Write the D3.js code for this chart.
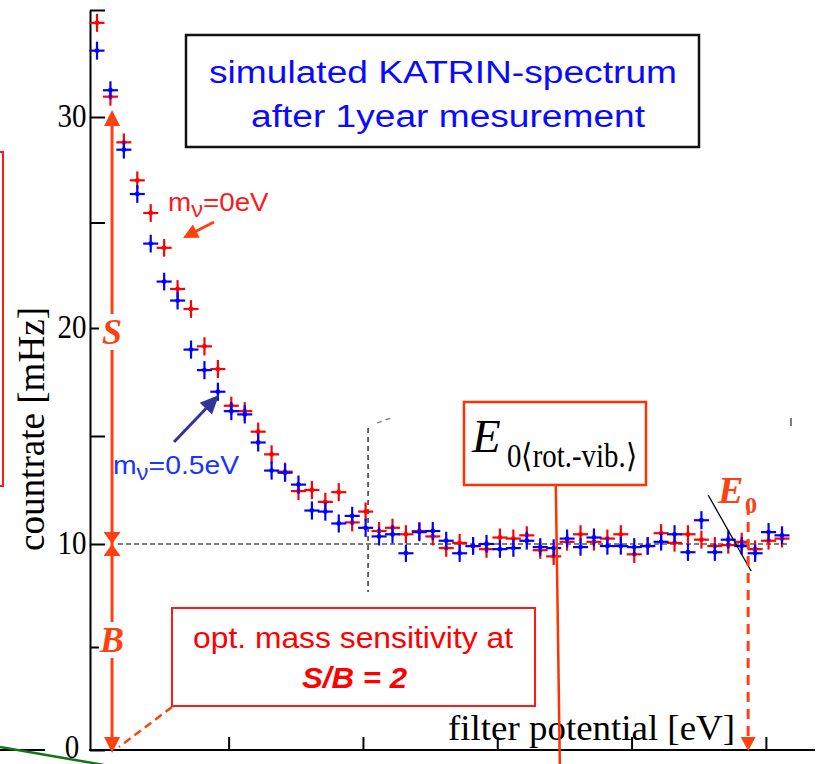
<!DOCTYPE html>
<html>
<head>
<meta charset="utf-8">
<script src="https://cdn.jsdelivr.net/npm/d3@7"></script>
<style>
  html, body { margin: 0; padding: 0; background: #fff; }
  svg { display: block; }
</style>
</head>
<body>
<svg id="chart" width="827" height="764"></svg>
<script>
// Retarding (filter) potential relative to the endpoint region, eV
const filterPotential = [
  -24.9, -24.4, -23.9, -23.4, -22.9, -22.4, -21.9, -21.4, -20.9, -20.4,
  -19.9, -19.4, -18.9, -18.4, -17.9, -17.4, -16.9, -16.4, -15.9, -15.4,
  -14.9, -14.4, -13.9, -13.4, -12.9, -12.4, -11.9, -11.4, -10.9, -10.4,
  -9.9, -9.4, -8.9, -8.4, -7.9, -7.4, -6.9, -6.4, -5.9, -5.4,
  -4.9, -4.4, -3.9, -3.4, -2.9, -2.4, -1.9, -1.4, -0.9, -0.4,
  0.1, 0.6
];

// Count rate for m_nu = 0 eV, mHz
const rateMassless = [
  34.4, 30.95, 28.8, 27.0, 25.45, 23.8, 21.85, 20.9, 19.15, 18.1,
  16.4, 16.15, 15.2, 14.15, 13.35, 12.45, 12.5, 11.95, 12.4, 11.0,
  11.5, 10.6, 10.75, 10.45, 10.6, 10.35, 9.8, 10.05, 9.9, 9.75,
  10.3, 10.25, 10.4, 9.7, 9.4, 10.1, 10.45, 10.1, 10.25, 10.45,
  9.5, 9.9, 10.5, 10.05, 10.45, 10.2, 9.9, 9.95, 10.1, 9.75,
  10.15, 10.25
];

// Count rate for m_nu = 0.5 eV, mHz
const rateMassive = [
  33.1, 31.25, 28.45, 26.35, 24.0, 22.2, 21.3, 19.0, 18.05, 17.05,
  16.15, 16.0, 14.7, 13.4, 13.3, 12.75, 11.55, 11.5, 10.95, 11.3,
  10.75, 10.35, 10.45, 9.55, 10.55, 10.6, 10.15, 9.55, 9.9, 10.0,
  9.75, 9.8, 10.15, 9.85, 9.8, 10.25, 9.85, 10.3, 9.9, 9.9,
  9.85, 9.9, 10.1, 10.45, 9.6, 11.1, 9.6, 10.2, 9.9, 9.55,
  10.55, 10.4
];

const yTickValues = [0, 5, 10, 15, 20, 25, 30, 35];
const yTickLabels = ["0", "10", "20", "30"];
const xTickValues = [-20, -15, -10, -5, 0];

const background = 10;        // B level, mHz
const signalTop = 30;         // top of the S arrow, mHz
const endpoint = -0.66;       // E0
const rotVibTop = -7.82;      // E0<rot.-vib.> pointer, top end
const rotVibBottom = -7.67;   // E0<rot.-vib.> pointer, bottom end
const sbArrowX = -24.34;      // position of the S/B arrow
const xErr = 0.28;            // half bin width, eV
const yErr = 0.42;            // statistical error, mHz

const svg = d3.select("#chart");
const W = 827, H = 764;

const x = d3.scaleLinear().domain([-24.9, 0.6]).range([97, 782]);
const y = d3.scaleLinear().domain([0, 10, 20, 30, 35]).range([750, 544, 328, 117, 10]);

const serif = "'Liberation Serif','Times New Roman',Times,serif";
const sans = "'Liberation Sans',Arial,Helvetica,sans-serif";
const orange = "#ff4010";

svg.append("rect").attr("width", W).attr("height", H).attr("fill", "#fff");

// stray pieces at the far left edge
svg.append("rect").attr("x", -6).attr("y", 152).attr("width", 9).attr("height", 334)
  .attr("fill", "none").attr("stroke", "#ff1a1a").attr("stroke-width", 2);
svg.append("line").attr("x1", 0).attr("y1", 750).attr("x2", 45).attr("y2", 750)
  .attr("stroke", "#000").attr("stroke-width", 2);
svg.append("line").attr("x1", 0).attr("y1", 747).attr("x2", 104).attr("y2", 765)
  .attr("stroke", "#117711").attr("stroke-width", 2.5);

// y axis
const yAxis = d3.axisRight(y).tickValues(yTickValues).tickSize(15).tickSizeOuter(0).tickFormat("");
const gy = svg.append("g").attr("transform", "translate(90,0)").call(yAxis);
gy.selectAll("path,line").attr("stroke", "#000").attr("stroke-width", 2);

svg.append("g").selectAll("text").data(yTickLabels).join("text")
  .attr("x", 72).attr("y", d => Math.min(y(+d) + 10, 758))
  .attr("text-anchor", "middle")
  .attr("font-family", serif).attr("font-size", 34)
  .attr("textLength", d => d.length * 14.5).attr("lengthAdjust", "spacingAndGlyphs")
  .text(d => d);

// x axis
svg.append("line").attr("x1", 89).attr("x2", 815).attr("y1", y(0)).attr("y2", y(0))
  .attr("stroke", "#000").attr("stroke-width", 2);
const xAxis = d3.axisTop(x).tickValues(xTickValues).tickSize(13).tickSizeOuter(0).tickFormat("");
const gx = svg.append("g").attr("transform", `translate(0,${y(0)})`).call(xAxis);
gx.select(".domain").remove();
gx.selectAll("line").attr("stroke", "#000").attr("stroke-width", 2);

svg.append("text")
  .attr("transform", "translate(44,429) rotate(-90)")
  .attr("text-anchor", "middle")
  .attr("font-family", serif).attr("font-size", 37)
  .attr("textLength", 244).attr("lengthAdjust", "spacingAndGlyphs")
  .text("countrate [mHz]");

svg.append("text")
  .attr("x", 448).attr("y", 740)
  .attr("font-family", serif).attr("font-size", 36)
  .attr("textLength", 287).attr("lengthAdjust", "spacingAndGlyphs")
  .text("filter potential [eV]");

// background level and cut markers
svg.append("line").attr("x1", 118).attr("x2", 790).attr("y1", y(background)).attr("y2", y(background))
  .attr("stroke", "#000").attr("stroke-width", 1.2).attr("stroke-dasharray", "5,3");
svg.append("line").attr("x1", x(-14.81)).attr("x2", x(-14.81)).attr("y1", y(15.37)).attr("y2", y(7.67))
  .attr("stroke", "#000").attr("stroke-width", 1.2).attr("stroke-dasharray", "5,4");
svg.append("line").attr("x1", 377).attr("y1", 423).attr("x2", 391).attr("y2", 418)
  .attr("stroke", "#777").attr("stroke-width", 1.3).attr("stroke-dasharray", "5,4");
svg.append("line").attr("x1", 791).attr("y1", 418).attr("x2", 791).attr("y2", 426)
  .attr("stroke", "#555").attr("stroke-width", 1.5);

// data points with error crosses
function drawSeries(values, color) {
  const g = svg.append("g").attr("stroke", color).attr("fill", color).attr("stroke-width", 2.2);
  const pts = filterPotential.map((xv, i) => ({ xv, v: values[i] }));
  g.selectAll("line.h").data(pts).join("line").attr("class", "h")
    .attr("x1", d => x(d.xv - xErr)).attr("x2", d => x(d.xv + xErr))
    .attr("y1", d => y(d.v)).attr("y2", d => y(d.v));
  g.selectAll("line.v").data(pts).join("line").attr("class", "v")
    .attr("x1", d => x(d.xv)).attr("x2", d => x(d.xv))
    .attr("y1", d => y(d.v - yErr)).attr("y2", d => y(d.v + yErr));
  g.selectAll("circle").data(pts).join("circle")
    .attr("cx", d => x(d.xv)).attr("cy", d => y(d.v)).attr("r", 2.4).attr("stroke", "none");
}
drawSeries(rateMassless, "#ff0000");
drawSeries(rateMassive, "#0000ff");

// helper: filled arrowhead pointing from (x0,y0) to tip (x1,y1)
function arrowHead(x0, y0, x1, y1, len, wid, color) {
  const a = Math.atan2(y1 - y0, x1 - x0);
  const bx = x1 - len * Math.cos(a), by = y1 - len * Math.sin(a);
  const px = Math.sin(a) * wid / 2, py = -Math.cos(a) * wid / 2;
  svg.append("polygon")
    .attr("points", `${x1},${y1} ${bx + px},${by + py} ${bx - px},${by - py}`)
    .attr("fill", color);
}
function arrow(x0, y0, x1, y1, len, wid, color, sw) {
  const a = Math.atan2(y1 - y0, x1 - x0);
  svg.append("line").attr("x1", x0).attr("y1", y0)
    .attr("x2", x1 - (len - 2) * Math.cos(a)).attr("y2", y1 - (len - 2) * Math.sin(a))
    .attr("stroke", color).attr("stroke-width", sw);
  arrowHead(x0, y0, x1, y1, len, wid, color);
}

// S / B arrow
const ax = x(sbArrowX);
svg.append("line").attr("x1", ax).attr("x2", ax).attr("y1", y(signalTop)).attr("y2", y(0) - 8)
  .attr("stroke", orange).attr("stroke-width", 3);
arrowHead(ax, y(signalTop) + 20, ax, y(signalTop) - 7, 16, 16, orange);
arrowHead(ax, y(background) - 20, ax, y(background), 12, 17, orange);
arrowHead(ax, y(background) + 20, ax, y(background), 12, 17, orange);
arrowHead(ax, y(0) - 20, ax, y(0) + 3, 16, 16, orange);

function sbLabel(txt, cy) {
  svg.append("rect").attr("x", ax - 13).attr("y", cy - 18).attr("width", 27).attr("height", 36).attr("fill", "#fff");
  svg.append("text").attr("x", ax).attr("y", cy + 12).attr("text-anchor", "middle")
    .attr("font-family", serif).attr("font-size", 36).attr("font-weight", "bold").attr("font-style", "italic")
    .attr("fill", orange).text(txt);
}
sbLabel("S", 332);
sbLabel("B", 640);

// neutrino mass labels: m with subscript nu, stretched slightly in x
function massLabel(x0, baseline, value, color, sx) {
  const t = svg.append("text")
    .attr("transform", `translate(${x0},${baseline}) scale(${sx},1)`)
    .attr("font-family", sans).attr("font-size", 26).attr("fill", color);
  t.append("tspan").text("m");
  t.append("tspan").attr("font-size", 22).attr("dy", 6).text("ν");
  t.append("tspan").attr("dy", -6).text("=" + value);
}
massLabel(168, 211, "0eV", "#ff1a1a", 1.07);
arrow(214, 222, 183, 238, 15, 15, orange, 3);
massLabel(113, 474, "0.5eV", "#1a33ff", 1.09);
arrow(174, 442, 219, 395, 19, 17, "#333399", 3);

// title box
svg.append("rect").attr("x", 186).attr("y", 35).attr("width", 513).attr("height", 112)
  .attr("fill", "#fff").attr("stroke", "#111").attr("stroke-width", 2.5);
svg.append("text").attr("x", 209).attr("y", 83).attr("font-family", sans).attr("font-size", 31)
  .attr("fill", "#0a0aff").attr("textLength", 468).attr("lengthAdjust", "spacingAndGlyphs")
  .text("simulated KATRIN-spectrum");
svg.append("text").attr("x", 251).attr("y", 127).attr("font-family", sans).attr("font-size", 31)
  .attr("fill", "#0a0aff").attr("textLength", 394).attr("lengthAdjust", "spacingAndGlyphs")
  .text("after 1year mesurement");

// sensitivity box
svg.append("line").attr("x1", 172).attr("y1", 707).attr("x2", 119).attr("y2", 747)
  .attr("stroke", orange).attr("stroke-width", 2.5).attr("stroke-dasharray", "8,5");
svg.append("rect").attr("x", 172).attr("y", 608).attr("width", 363).attr("height", 98)
  .attr("fill", "#fff").attr("stroke", "#ff1a1a").attr("stroke-width", 2);
svg.append("text").attr("x", 193).attr("y", 648).attr("font-family", sans).attr("font-size", 30)
  .attr("fill", "#ff0000").attr("textLength", 320).attr("lengthAdjust", "spacingAndGlyphs")
  .text("opt. mass sensitivity at");
svg.append("text").attr("x", 302).attr("y", 688).attr("font-family", sans).attr("font-size", 30)
  .attr("font-weight", "bold").attr("font-style", "italic")
  .attr("fill", "#ff0000").attr("textLength", 105).attr("lengthAdjust", "spacingAndGlyphs")
  .text("S/B = 2");

// E0 <rot.-vib.> marker
svg.append("line").attr("x1", x(rotVibTop)).attr("y1", 485).attr("x2", x(rotVibBottom)).attr("y2", H)
  .attr("stroke", "#ff3300").attr("stroke-width", 2.5);
svg.append("rect").attr("x", 464).attr("y", 402).attr("width", 182).attr("height", 83)
  .attr("fill", "#fff").attr("stroke", "#ff3300").attr("stroke-width", 2.5);
svg.append("text").attr("x", 472).attr("y", 452).attr("font-family", serif).attr("font-size", 47)
  .attr("font-style", "italic").text("E");
svg.append("text").attr("x", 507).attr("y", 467).attr("font-family", serif).attr("font-size", 33)
  .attr("textLength", 130).attr("lengthAdjust", "spacingAndGlyphs")
  .text("0⟨rot.-vib.⟩");

// E0 marker
svg.append("line").attr("x1", x(-2.15)).attr("y1", y(12.27)).attr("x2", x(-0.55)).attr("y2", y(8.69))
  .attr("stroke", "#000").attr("stroke-width", 1.3);
svg.append("line").attr("x1", x(endpoint)).attr("x2", x(endpoint)).attr("y1", 505).attr("y2", y(0) - 12)
  .attr("stroke", orange).attr("stroke-width", 3).attr("stroke-dasharray", "10,7");
arrowHead(x(endpoint), y(0) - 20, x(endpoint), y(0) + 1, 14, 15, orange);
svg.append("text").attr("x", 718).attr("y", 503).attr("font-family", serif).attr("font-size", 38)
  .attr("font-weight", "bold").attr("font-style", "italic").attr("fill", orange).text("E");
svg.append("text").attr("x", 745).attr("y", 513).attr("font-family", serif).attr("font-size", 24)
  .attr("font-weight", "bold").attr("fill", orange).text("0");
</script>
</body>
</html>
